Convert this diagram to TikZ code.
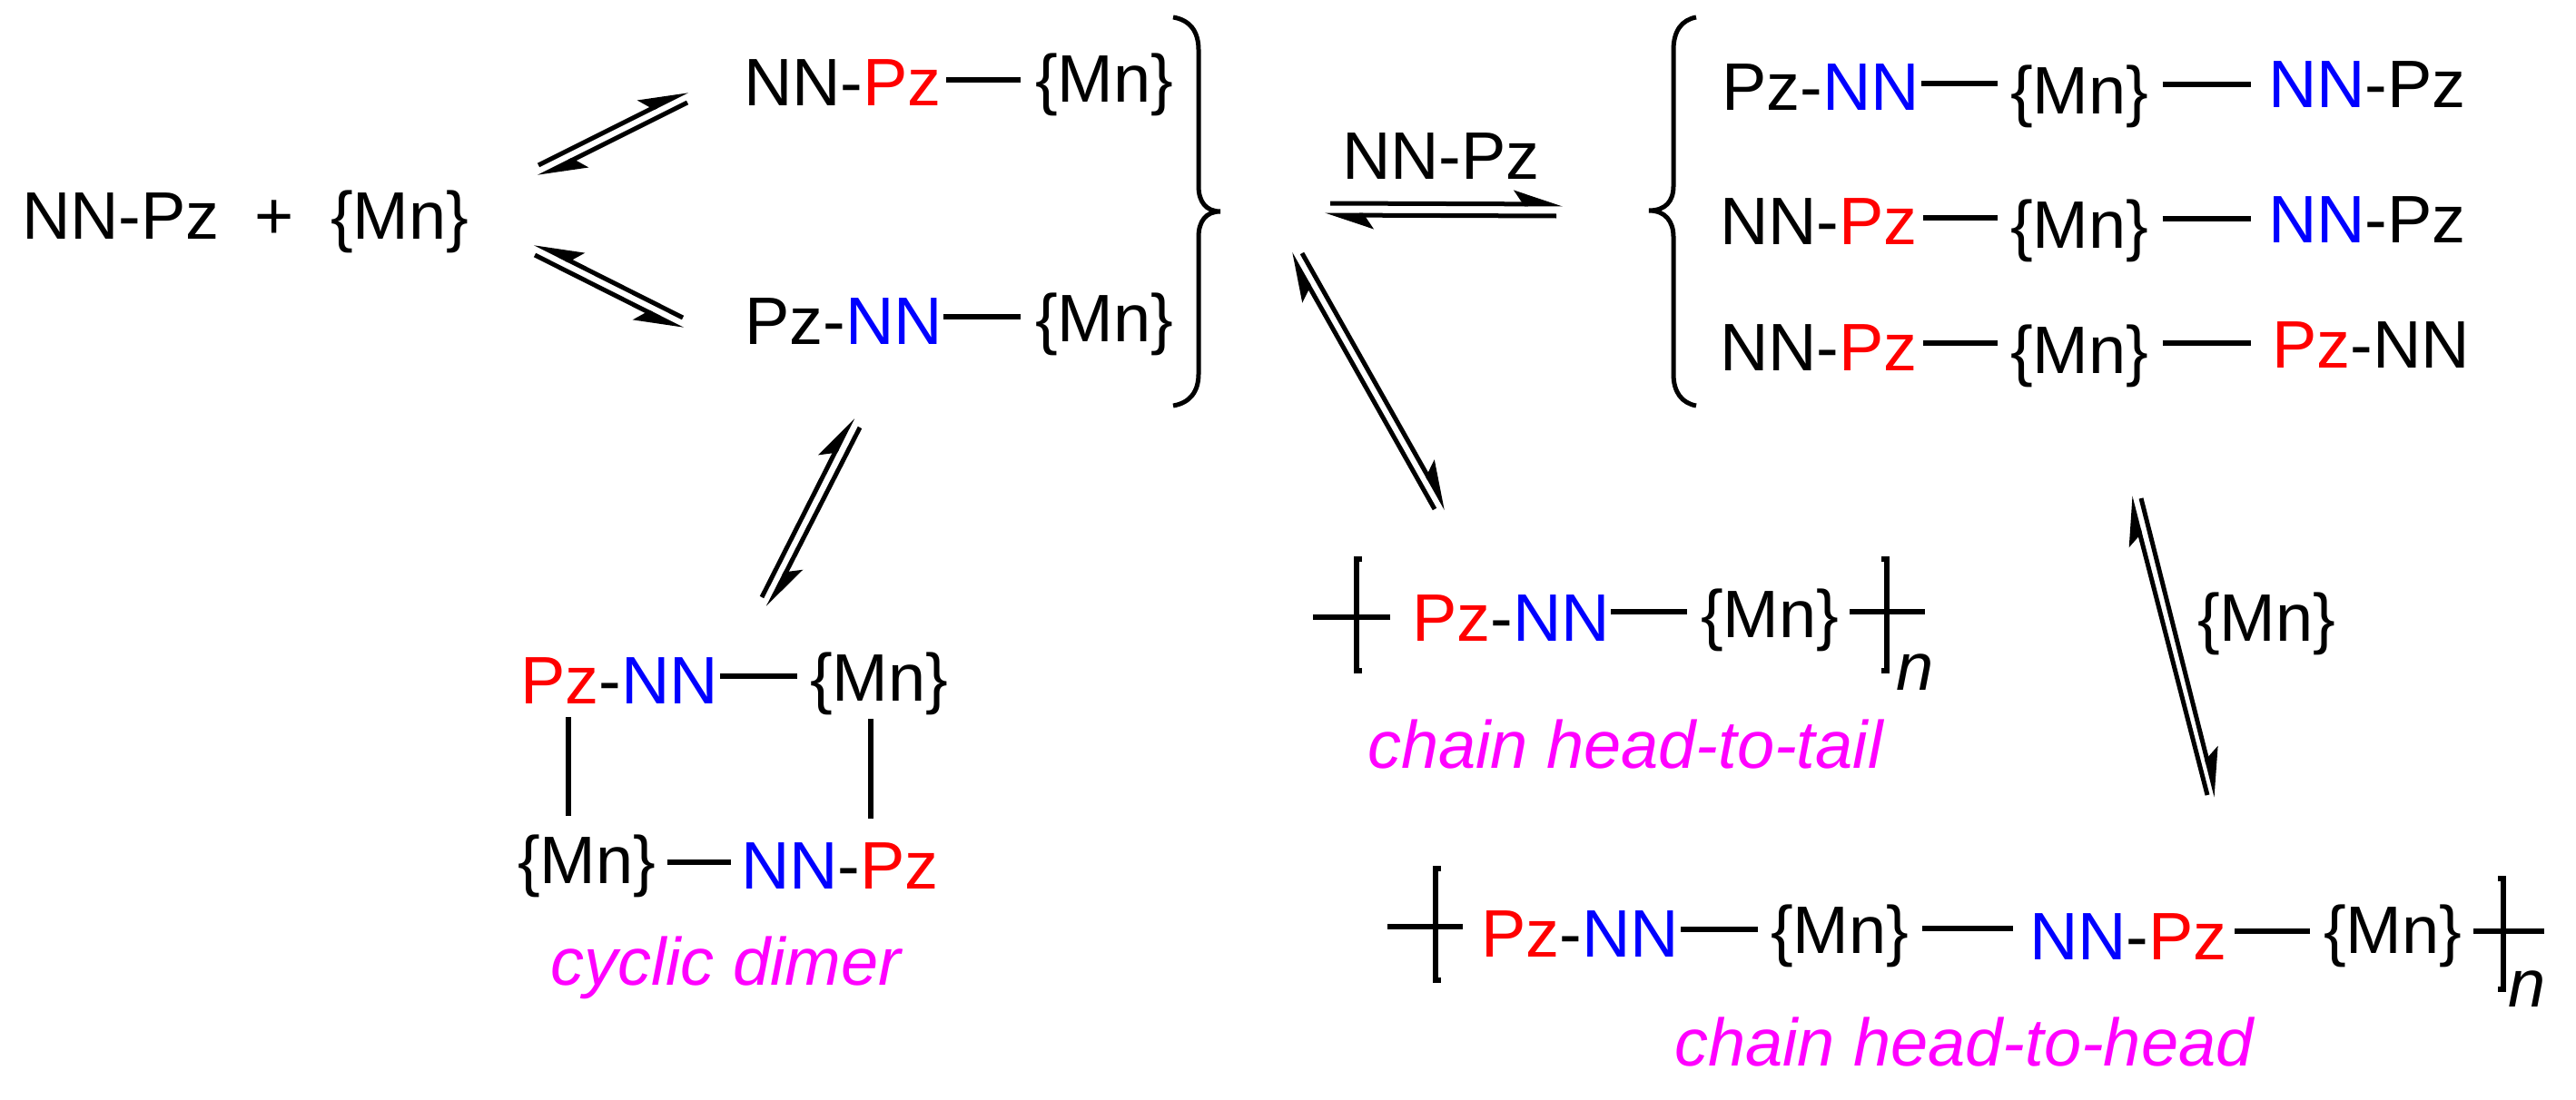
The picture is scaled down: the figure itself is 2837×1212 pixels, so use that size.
\documentclass[tikz,border=0pt]{standalone}
\usepackage{fontspec}
\setmainfont{Liberation Sans}
\usetikzlibrary{arrows.meta}
\definecolor{rd}{HTML}{FF0000}
\definecolor{bl}{HTML}{0000FF}
\definecolor{mg}{HTML}{FF00FF}
\newcommand{\Rd}[1]{\textcolor{rd}{#1}}
\newcommand{\Bl}[1]{\textcolor{bl}{#1}}
\newcommand{\tx}[4]{\node[lbl] (#1) at (#2,#3) {#4};}
\newcommand{\bondh}[5]{\draw[bondline] ([shift={(#2-2.5,0)}]#1.base east |- 0,#5) -- ([shift={(#4,0)}]#3.base west |- 0,#5);}
\tikzset{
  lbl/.style={anchor=base west,inner sep=0pt,outer sep=0pt,font=\fontsize{74}{80}\selectfont},
  tag/.style={lbl,text=mg,font=\fontsize{74}{80}\selectfont\itshape},
  bondline/.style={line width=5.4pt,line cap=butt},
  bracket/.style={line width=5.4pt,line cap=butt,miter limit=10},
  bracelin/.style={line width=5pt,line cap=butt},
  hl/.style={line width=5pt,-{Stealth[harpoon,length=46pt,width=30pt,inset=10pt]}},
  hr/.style={line width=5pt,-{Stealth[harpoon,swap,length=46pt,width=30pt,inset=10pt]}},
}
\begin{document}
\begin{tikzpicture}[x=1pt,y=-1pt]
\useasboundingbox[fill=white] (0,0) rectangle (2837,1212);

% reactants
\tx{r1}{24}{263}{NN-Pz}
\tx{plus}{280}{263}{+}
\tx{r2}{364}{263}{\{Mn\}}

% first intermediates
\tx{a1}{819}{117}{NN-\Rd{Pz}}
\tx{a2}{1140}{113}{\{Mn\}}
\bondh{a1}{8}{a2}{-16}{88}
\tx{b1}{820}{379}{Pz-\Bl{NN}}
\tx{b2}{1140}{376}{\{Mn\}}
\bondh{b1}{4}{b2}{-16}{349}

% right brace
\draw[bracelin] (1292,19) .. controls (1310,22) and (1320,34) .. (1320,55) -- (1320,205)
  .. controls (1320,222) and (1328,233) .. (1344,233)
  .. controls (1328,233) and (1320,244) .. (1320,261) -- (1320,412)
  .. controls (1320,432) and (1310,444) .. (1292,447);

% label over arrows
\tx{lab1}{1478}{197}{NN-Pz}

% left brace
\draw[bracelin] (1868,19) .. controls (1852,22) and (1843,34) .. (1843,55) -- (1843,205)
  .. controls (1843,222) and (1834,232) .. (1816,232)
  .. controls (1834,232) and (1843,244) .. (1843,261) -- (1843,412)
  .. controls (1843,432) and (1852,444) .. (1868,447);

% top right block
\tx{c1}{1896}{122}{Pz-\Bl{NN}}
\tx{c2}{2214}{125}{\{Mn\}}
\tx{c3}{2498}{119}{\Bl{NN}-Pz}
\bondh{c1}{5}{c2}{-14}{92}
\bondh{c2}{18}{c3}{-19}{93}
\tx{d1}{1894}{269}{NN-\Rd{Pz}}
\tx{d2}{2214}{273}{\{Mn\}}
\tx{d3}{2498}{267}{\Bl{NN}-Pz}
\bondh{d1}{9}{d2}{-14}{240}
\bondh{d2}{18}{d3}{-19}{241}
\tx{e1}{1894}{408}{NN-\Rd{Pz}}
\tx{e2}{2214}{411}{\{Mn\}}
\tx{e3}{2502}{405}{\Rd{Pz}-NN}
\bondh{e1}{9}{e2}{-14}{378}
\bondh{e2}{18}{e3}{-23}{378}

% equilibrium arrows
\coordinate (p1s) at (593,182); \coordinate (p1t) at (757,100);
\coordinate (p2s) at (757,113); \coordinate (p2t) at (593,195);
\draw[hl] (p1s) -- (p1t); \draw[hl] (p2s) -- (p2t);
\coordinate (q1s) at (752,350); \coordinate (q1t) at (589,268);
\coordinate (q2s) at (589,281); \coordinate (q2t) at (752,363);
\draw[hr] (q1s) -- (q1t); \draw[hr] (q2s) -- (q2t);
\coordinate (s1s) at (1465,224); \coordinate (s1t) at (1721,225);
\coordinate (s2s) at (1714,238); \coordinate (s2t) at (1459,237);
\draw[hl] (s1s) -- (s1t); \draw[hl] (s2s) -- (s2t);
\coordinate (t1s) at (1580,561); \coordinate (t1t) at (1421,279);
\coordinate (t2s) at (1434,279); \coordinate (t2t) at (1593,561);
\draw[hl] (t1s) -- (t1t); \draw[hl] (t2s) -- (t2t);
\coordinate (u1s) at (839,658); \coordinate (u1t) at (939,460);
\coordinate (u2s) at (947,471); \coordinate (u2t) at (846,669);
\draw[hl] (u1s) -- (u1t); \draw[hl] (u2s) -- (u2t);
\coordinate (v1s) at (2431,876); \coordinate (v1t) at (2346,547);
\coordinate (v2s) at (2358,549); \coordinate (v2t) at (2441,878);
\draw[hl] (v1s) -- (v1t); \draw[hl] (v2s) -- (v2t);

% cyclic dimer
\tx{f1}{573}{775}{\Rd{Pz}-\Bl{NN}}
\tx{f2}{892}{772}{\{Mn\}}
\tx{f3}{570}{973}{\{Mn\}}
\tx{f4}{816}{979}{\Bl{NN}-\Rd{Pz}}
\bondh{f1}{5}{f2}{-14}{745}
\bondh{f3}{15}{f4}{-11}{950}
\coordinate (g1) at (626,790); \coordinate (g2) at (626,899);
\coordinate (g3) at (959,792); \coordinate (g4) at (959,902);
\draw[bondline] (g1) -- (g2);
\draw[bondline] (g3) -- (g4);
\node[tag] (t1) at (606,1085) {cyclic dimer};

% chain head-to-tail
\tx{h1}{1555}{706}{\Rd{Pz}-\Bl{NN}}
\tx{h2}{1873}{702}{\{Mn\}}
\bondh{h1}{4}{h2}{-15}{674}
\draw[bracket] (1500,616) -- (1494,616) -- (1494,739) -- (1500,739);
\draw[bracket] (2072,616) -- (2078,616) -- (2078,739) -- (2072,739);
\coordinate (h3) at (1446,680); \coordinate (h4) at (1531,680);
\coordinate (h5) at (2037,674); \coordinate (h6) at (2120,674);
\draw[bondline] (h3) -- (h4);
\draw[bondline] (h5) -- (h6);
\tx{hn}{2088}{760}{\itshape n}
\node[tag] (t2) at (1506,846) {chain head-to-tail};

% {Mn} label
\tx{lab2}{2420}{706}{\{Mn\}}

% chain head-to-head
\tx{k1}{1631}{1054}{\Rd{Pz}-\Bl{NN}}
\tx{k2}{1950}{1050}{\{Mn\}}
\tx{k3}{2235}{1057}{\Bl{NN}-\Rd{Pz}}
\tx{k4}{2559}{1050}{\{Mn\}}
\bondh{k1}{5}{k2}{-14}{1024}
\bondh{k2}{17}{k3}{-18}{1023}
\bondh{k3}{11}{k4}{-15}{1026}
\draw[bracket] (1587,957) -- (1581,957) -- (1581,1080) -- (1587,1080);
\draw[bracket] (2751,968) -- (2757,968) -- (2757,1090) -- (2751,1090);
\coordinate (k5) at (1528,1021); \coordinate (k6) at (1611,1021);
\coordinate (k7) at (2724,1026); \coordinate (k8) at (2802,1026);
\draw[bondline] (k5) -- (k6);
\draw[bondline] (k7) -- (k8);
\tx{kn}{2762}{1109}{\itshape n}
\node[tag] (t3) at (1844,1174) {chain head-to-head};
\end{tikzpicture}
\end{document}
